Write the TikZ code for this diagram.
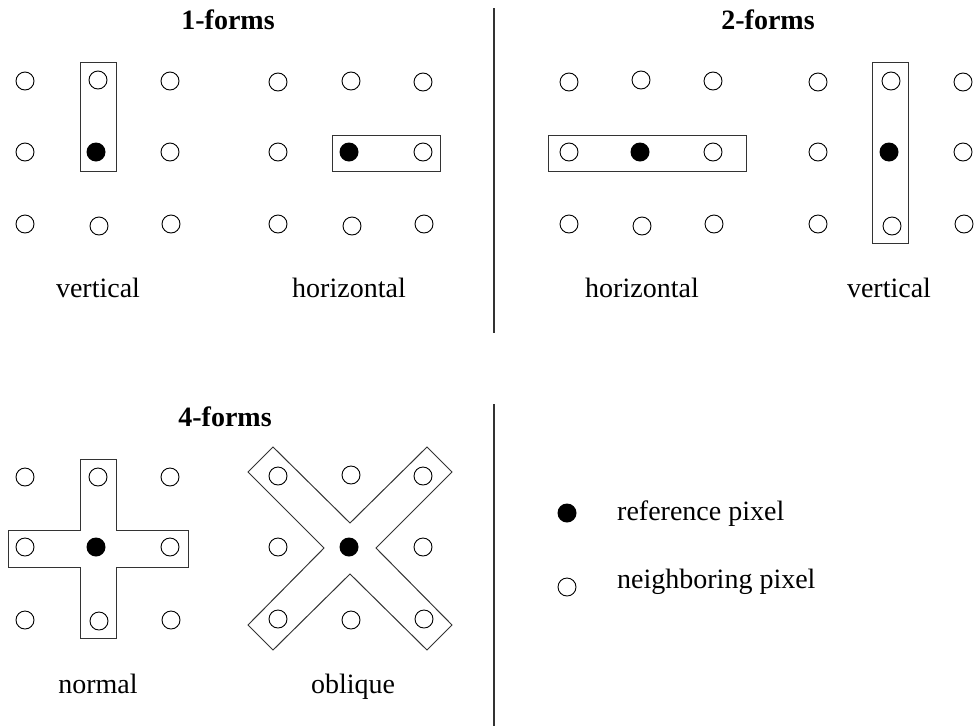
\documentclass[tikz,border=0pt]{standalone}
\usepackage{fontspec}
\setmainfont{Liberation Serif}
\begin{document}
\begin{tikzpicture}[x=1pt,y=-1pt,
  oc/.style={circle,draw=black,line width=0.9pt,minimum size=18pt,inner sep=0pt},
  fc/.style={circle,fill=black,minimum size=19pt,inner sep=0pt},
  frame/.style={draw=black!80,line width=1pt},
  sep/.style={draw=black!80,line width=2pt},
  lbl/.style={font=\fontsize{28}{34}\selectfont,anchor=base},
  ttl/.style={font=\fontsize{28}{34}\selectfont\bfseries,anchor=base}]
\useasboundingbox (0,0) rectangle (974,726);
% separators
\coordinate (s1a) at (494,8); \coordinate (s1b) at (494,333);
\coordinate (s2a) at (494,404); \coordinate (s2b) at (494,726);
\draw[sep] (s1a) -- (s1b);
\draw[sep] (s2a) -- (s2b);
% titles
\node[ttl] (t1) at (228,29) {1-forms};
\node[ttl] (t2) at (768,29) {2-forms};
\node[ttl] (t4) at (225,426) {4-forms};
% ---------- 1-forms vertical ----------
\draw[frame] (80,62) rectangle (116,171);
\node[oc] (a11) at (25,81) {};
\node[oc] (a12) at (98,80) {};
\node[oc] (a13) at (170,81) {};
\node[oc] (a21) at (25,152) {};
\node[fc] (a22) at (96,152) {};
\node[oc] (a23) at (170,152) {};
\node[oc] (a31) at (25,224) {};
\node[oc] (a32) at (99,226) {};
\node[oc] (a33) at (171,224) {};
\node[lbl] (la) at (98,297) {vertical};
% ---------- 1-forms horizontal ----------
\draw[frame] (332,135) rectangle (440,171);
\node[oc] (b11) at (278,82) {};
\node[oc] (b12) at (351,81) {};
\node[oc] (b13) at (423,82) {};
\node[oc] (b21) at (278,152) {};
\node[fc] (b22) at (349,152) {};
\node[oc] (b23) at (423,152) {};
\node[oc] (b31) at (278,224) {};
\node[oc] (b32) at (352,226) {};
\node[oc] (b33) at (424,224) {};
\node[lbl] (lb) at (349,297) {horizontal};
% ---------- 2-forms horizontal ----------
\draw[frame] (548,135) rectangle (746,171);
\node[oc] (c11) at (569,82) {};
\node[oc] (c12) at (641,80) {};
\node[oc] (c13) at (713,81) {};
\node[oc] (c21) at (569,152) {};
\node[fc] (c22) at (640,152) {};
\node[oc] (c23) at (713,152) {};
\node[oc] (c31) at (569,224) {};
\node[oc] (c32) at (642,226) {};
\node[oc] (c33) at (714,224) {};
\node[lbl] (lc) at (642,297) {horizontal};
% ---------- 2-forms vertical ----------
\draw[frame] (872,62) rectangle (908,243);
\node[oc] (d11) at (818,82) {};
\node[oc] (d12) at (891,81) {};
\node[oc] (d13) at (963,82) {};
\node[oc] (d21) at (818,152) {};
\node[fc] (d22) at (889,152) {};
\node[oc] (d23) at (963,152) {};
\node[oc] (d31) at (818,224) {};
\node[oc] (d32) at (892,226) {};
\node[oc] (d33) at (964,224) {};
\node[lbl] (ld) at (889,297) {vertical};
% ---------- 4-forms normal ----------
\draw[frame] (80,459) -- (116,459) -- (116,530) -- (188,530) -- (188,567)
  -- (116,567) -- (116,638) -- (80,638) -- (80,567) -- (8,567) -- (8,530)
  -- (80,530) -- cycle;
\node[oc] (e11) at (25,477) {};
\node[oc] (e12) at (98,477) {};
\node[oc] (e13) at (170,477) {};
\node[oc] (e21) at (25,547) {};
\node[fc] (e22) at (96,547) {};
\node[oc] (e23) at (170,547) {};
\node[oc] (e31) at (25,620) {};
\node[oc] (e32) at (99,621) {};
\node[oc] (e33) at (171,620) {};
\node[lbl] (le) at (98,693) {normal};
% ---------- 4-forms oblique ----------
\draw[frame] (273,447) -- (350,523) -- (427,447) -- (452,472) -- (376,548)
  -- (452,625) -- (427,650) -- (350,574) -- (273,650) -- (248,625)
  -- (324,548) -- (248,472) -- cycle;
\node[oc] (f11) at (278,476) {};
\node[oc] (f12) at (351,475) {};
\node[oc] (f13) at (423,476) {};
\node[oc] (f21) at (278,547) {};
\node[fc] (f22) at (349,547) {};
\node[oc] (f23) at (423,547) {};
\node[oc] (f31) at (278,619) {};
\node[oc] (f32) at (351,620) {};
\node[oc] (f33) at (424,619) {};
\node[lbl] (lf) at (353,693) {oblique};
% ---------- legend ----------
\node[fc] (g1) at (567,513) {};
\node[oc] (g2) at (567,587) {};
\node[lbl,anchor=base west,inner xsep=0pt] (lg1) at (617,520) {reference pixel};
\node[lbl,anchor=base west,inner xsep=0pt] (lg2) at (617,588) {neighboring pixel};
\end{tikzpicture}
\end{document}
